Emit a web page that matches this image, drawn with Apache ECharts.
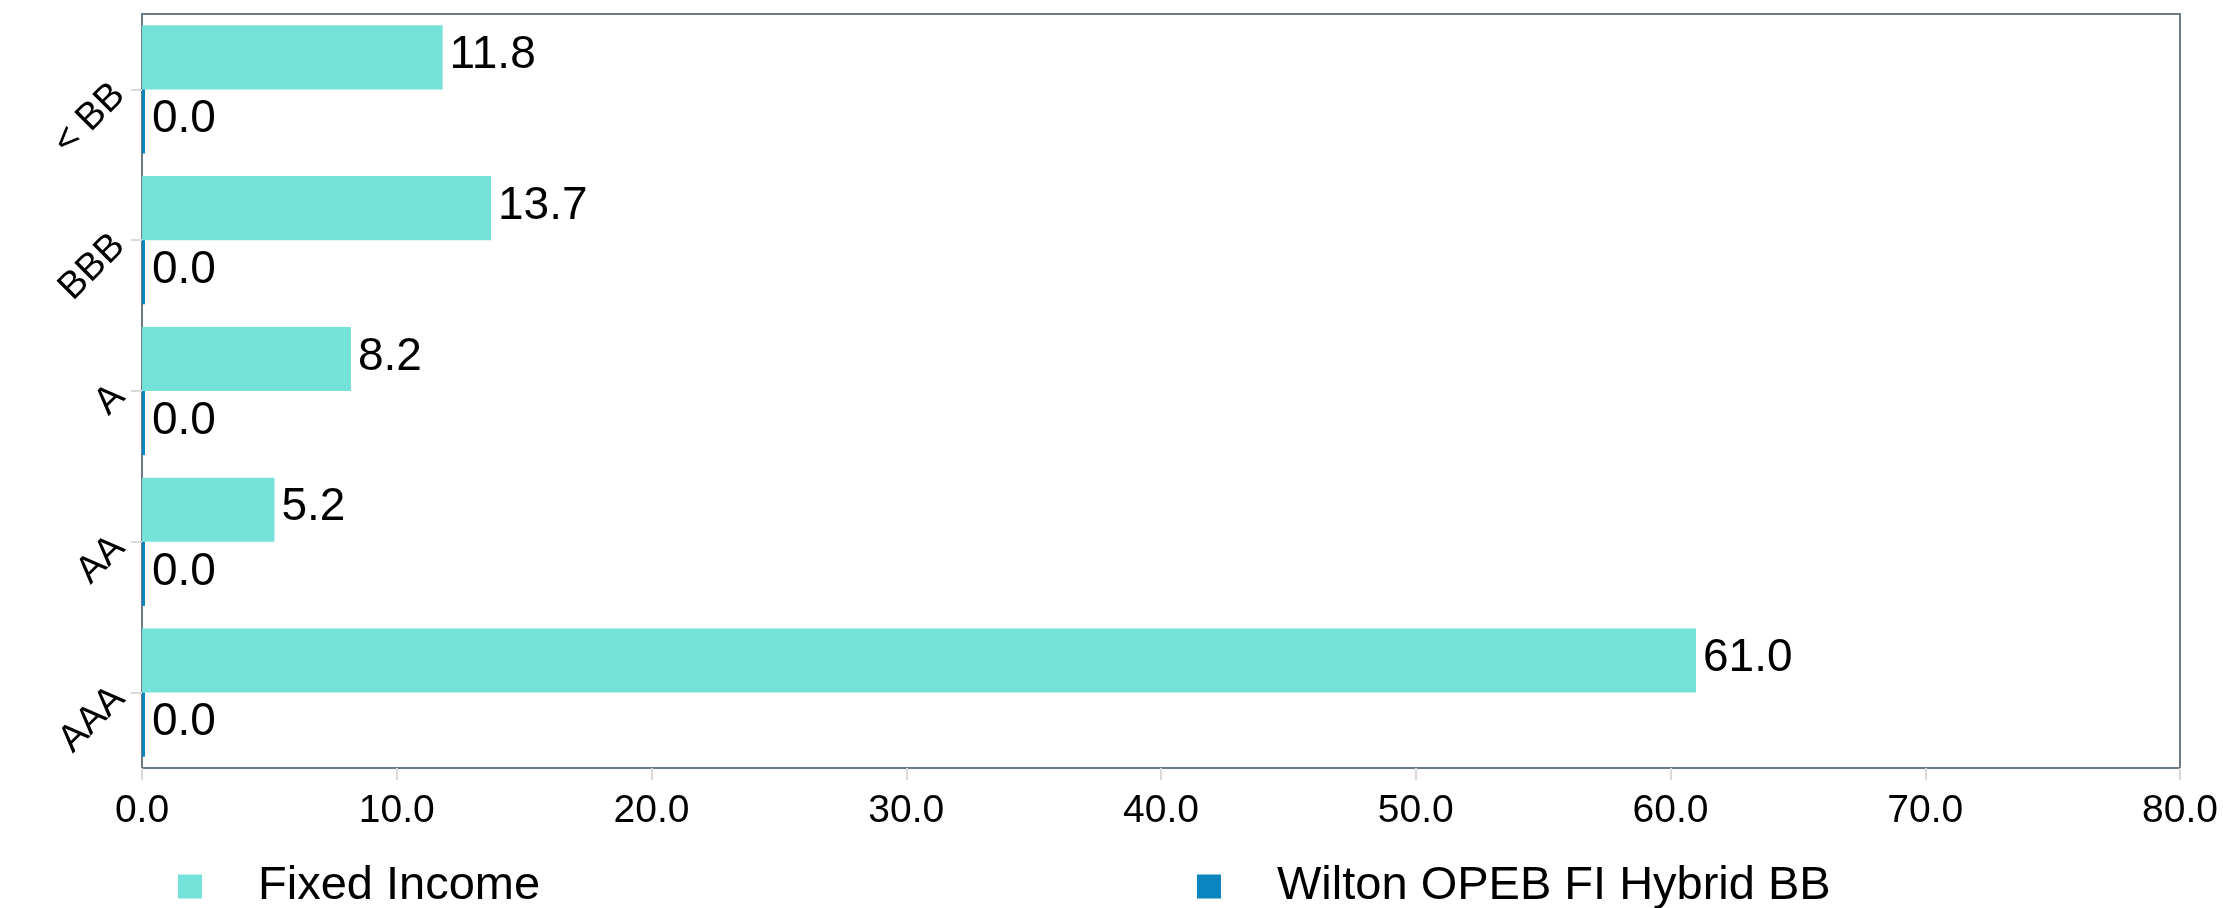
<!DOCTYPE html>
<html><head><meta charset="utf-8">
<script src="https://cdn.jsdelivr.net/npm/echarts@6/dist/echarts.min.js"></script>
<style>html,body{margin:0;padding:0;background:#fff}#c{width:2223px;height:908px}</style>
</head><body><div id="c"></div>
<script>
var categories = ['AAA', 'AA', 'A', 'BBB', '< BB'];
var fixedIncome = [61.0, 5.2, 8.2, 13.7, 11.8];
var wilton = [0.0, 0.0, 0.0, 0.0, 0.0];
var seriesNames = ['Fixed Income', 'Wilton OPEB FI Hybrid BB'];
var xTicks = {min: 0, max: 80, interval: 10};

var FONT = '"Liberation Sans", Arial, Helvetica, sans-serif';
var chart = echarts.init(document.getElementById('c'), null, {renderer: 'canvas'});
var lbl = {show: true, position: 'right', distance: 7, offset: [0, -2], color: '#000', fontSize: 46, fontFamily: FONT,
  formatter: function (p) { return p.value.toFixed(1); }};
chart.setOption({
  animation: false,
  grid: {left: 142, right: 43, top: 14, bottom: 140, show: true, borderColor: '#6B7A86', borderWidth: 2, containLabel: false},
  legend: [
    {data: [seriesNames[0]], left: 173, top: 858, itemWidth: 24, itemHeight: 24, icon: 'rect',
     textStyle: {fontSize: 47, fontFamily: FONT, color: '#000', padding: [0, 0, 0, 51]}},
    {data: [seriesNames[1]], left: 1192, top: 858, itemWidth: 24, itemHeight: 24, icon: 'rect',
     textStyle: {fontSize: 47, fontFamily: FONT, color: '#000', padding: [0, 0, 0, 51]}}
  ],
  xAxis: {type: 'value', min: xTicks.min, max: xTicks.max, interval: xTicks.interval,
    axisLine: {show: true, lineStyle: {color: '#6B7A86', width: 2}},
    axisTick: {show: true, length: 12, lineStyle: {color: '#d9d9d9', width: 2}},
    splitLine: {show: false},
    axisLabel: {fontSize: 39, fontFamily: FONT, color: '#000', margin: 24,
      formatter: function (v) { return v.toFixed(1); }}},
  yAxis: {type: 'category', data: categories,
    axisLine: {show: true, lineStyle: {color: '#6B7A86', width: 2}},
    axisTick: {show: true, alignWithLabel: true, length: 11, lineStyle: {color: '#d9d9d9', width: 2}},
    axisLabel: {fontSize: 38, fontFamily: FONT, color: '#000', rotate: 45, margin: 23}},
  series: [
    {name: seriesNames[0], type: 'bar', data: fixedIncome, itemStyle: {color: '#74E2D8'}, barGap: '0%', barCategoryGap: '15%', label: lbl},
    {name: seriesNames[1], type: 'bar', data: wilton, itemStyle: {color: '#0B84C0'}, barGap: '0%', barCategoryGap: '15%', barMinHeight: 3, label: lbl}
  ]
});
</script></body></html>
